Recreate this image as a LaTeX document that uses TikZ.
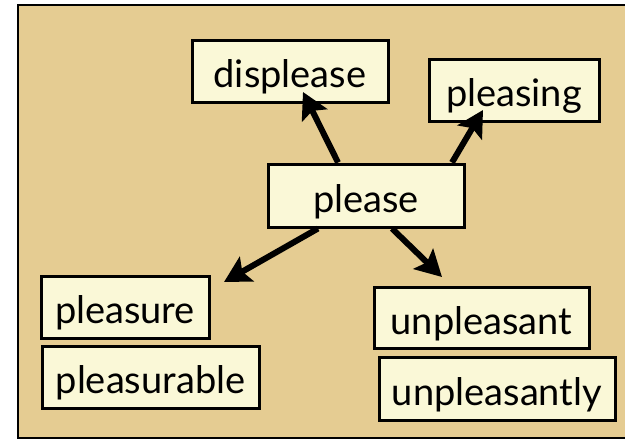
\documentclass[tikz,border=0pt]{standalone}
\usepackage{fontspec}
\setmainfont{Lato}
\usetikzlibrary{arrows.meta}
\definecolor{paper}{RGB}{229,204,146}
\definecolor{boxfill}{RGB}{250,248,215}
\begin{document}
\begin{tikzpicture}[x=1pt,y=-1pt,
  word/.style={draw=black, line width=3pt, fill=boxfill, inner sep=0pt,
    text height=33pt, text depth=0pt,
    font=\fontsize{38}{44}\selectfont},
  link/.style={line width=6pt, -{Stealth[length=26pt,width=28pt,inset=5pt]}}]
\useasboundingbox (0,0) rectangle (625,440);
\fill[white] (0,0) rectangle (625,440);
% tan panel
\draw[fill=paper, line width=2.5pt] (18,5) rectangle (640,438);

% word boxes
\node[word, minimum width=196pt, minimum height=62pt] (displease) at (290,71) {displease};
\node[word, minimum width=170pt, minimum height=62pt] (pleasing) at (514,90) {pleasing};
\node[word, minimum width=196pt, minimum height=63pt] (please) at (366,195.5) {please};
\node[word, minimum width=168pt, minimum height=62pt] (pleasure) at (125,307) {pleasure};
\node[word, minimum width=217pt, minimum height=62pt] (pleasurable) at (150.5,377) {pleasurable};
\node[word, minimum width=215pt, minimum height=61pt] (unpleasant) at (481.5,317.5) {unpleasant};
\node[word, minimum width=236pt, minimum height=63pt] (unpleasantly) at (497,388.5) {unpleasantly};

% arrow tips
\coordinate (tipA) at (303,92);
\coordinate (tipB) at (483,110);
\coordinate (tipC) at (224,282);
\coordinate (tipD) at (442,277);

\draw[link] ([xshift=-28pt]please.north) -- (tipA);
\draw[link] ([xshift=86pt]please.north) -- (tipB);
\draw[link] ([xshift=-48pt]please.south) -- (tipC);
\draw[link] ([xshift=26pt]please.south) -- (tipD);
\end{tikzpicture}
\end{document}
